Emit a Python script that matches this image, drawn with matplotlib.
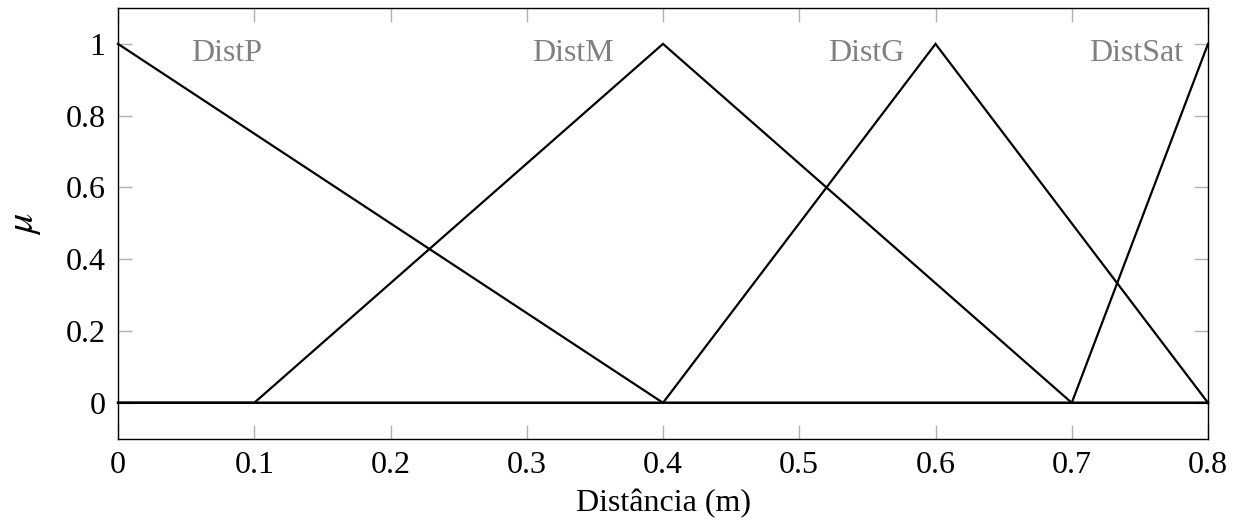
import matplotlib
matplotlib.use('Agg')
import matplotlib.pyplot as plt

plt.rcParams['font.family'] = ['Liberation Serif', 'DejaVu Serif']
plt.rcParams['mathtext.fontset'] = 'stix'
plt.rcParams['font.size'] = 23

# funcoes de pertinencia (pontos x, mu)
dist_p_x = [0, 0.4, 0.8]
dist_p_y = [1, 0, 0]
dist_m_x = [0, 0.1, 0.4, 0.7, 0.8]
dist_m_y = [0, 0, 1, 0, 0]
dist_g_x = [0, 0.4, 0.6, 0.8]
dist_g_y = [0, 0, 1, 0]
dist_sat_x = [0, 0.7, 0.8]
dist_sat_y = [0, 0, 1]

labels = ['DistP', 'DistM', 'DistG', 'DistSat']
label_x = [0.08, 0.334, 0.549, 0.747]
label_y = 0.972

xticks = [0, 0.1, 0.2, 0.3, 0.4, 0.5, 0.6, 0.7, 0.8]
yticks = [0, 0.2, 0.4, 0.6, 0.8, 1]

fig = plt.figure(figsize=(12.43, 5.2), dpi=100)
ax = fig.add_axes([118/1243, 1 - 438.7/520, 1090/1243, 430.7/520])

for xs, ys in [(dist_p_x, dist_p_y), (dist_m_x, dist_m_y),
               (dist_g_x, dist_g_y), (dist_sat_x, dist_sat_y)]:
    ax.plot(xs, ys, color='black', lw=1.6, solid_joinstyle='miter', clip_on=False)

for lab, lx in zip(labels, label_x):
    ax.text(lx, label_y, lab, color='#808080', ha='center', va='center')

ax.set_xlim(0, 0.8)
ax.set_ylim(-0.1, 1.1)
ax.set_xticks(xticks)
ax.set_xticklabels(['0', '0.1', '0.2', '0.3', '0.4', '0.5', '0.6', '0.7', '0.8'])
ax.set_yticks(yticks)
ax.set_yticklabels(['0', '0.2', '0.4', '0.6', '0.8', '1'])
ax.tick_params(direction='in', length=10, width=1, color='#b0b0b0',
               top=True, right=True, pad=9)
for s in ax.spines.values():
    s.set_linewidth(1)

ax.set_xlabel('Distância (m)', labelpad=6)
ax.set_ylabel(r'$\mu$', fontsize=29, labelpad=16)

fig.savefig('out.png', dpi=100)
